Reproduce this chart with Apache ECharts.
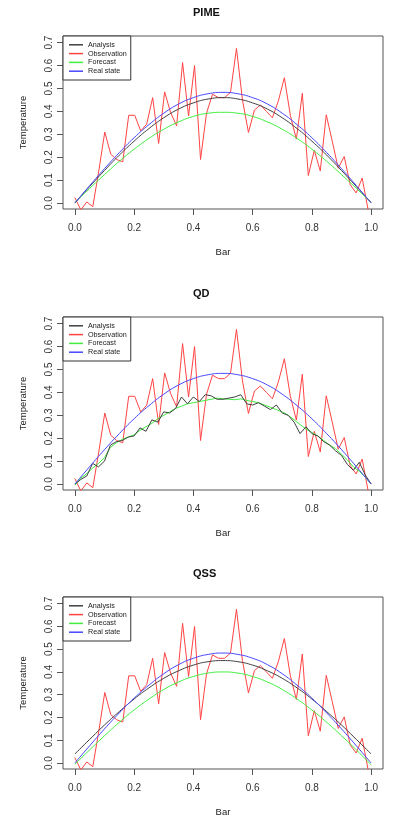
<!DOCTYPE html>
<html>
<head>
<meta charset="utf-8">
<script src="https://cdn.jsdelivr.net/npm/echarts@6/dist/echarts.min.js"></script>
<style>
  html, body { margin: 0; padding: 0; background: #fff; }
  #main { width: 396px; height: 818px; }
</style>
</head>
<body>
<div id="main"></div>
<script>
// panel titles and the legend names
const panelTitles = ['PIME', 'QD', 'QSS'];
const seriesNames = ['Analysis', 'Observation', 'Forecast', 'Real state'];
const xTicks = [0, 0.2, 0.4, 0.6, 0.8, 1.0];
const yTicks = [0, 0.1, 0.2, 0.3, 0.4, 0.5, 0.6, 0.7];

// observations, same in every panel (every second point of a 100 point grid)
const obsY = [0.024, -0.03, 0.005, -0.016, 0.14, 0.31, 0.213, 0.19, 0.18, 0.383,
  0.383, 0.315, 0.344, 0.46, 0.26, 0.485, 0.395, 0.337, 0.613, 0.38,
  0.60, 0.19, 0.392, 0.475, 0.46, 0.46, 0.483, 0.675, 0.45, 0.308,
  0.406, 0.428, 0.40, 0.372, 0.446, 0.547, 0.383, 0.279, 0.479, 0.12,
  0.23, 0.14, 0.385, 0.27, 0.152, 0.203, 0.08, 0.044, 0.109, -0.03];

// smooth curves, read at steps of 0.05
const smoothX = [0, 0.05, 0.1, 0.15, 0.2, 0.25, 0.3, 0.35, 0.4, 0.45, 0.5,
  0.55, 0.6, 0.65, 0.7, 0.75, 0.8, 0.85, 0.9, 0.95, 1.0];
const realState = [0, 0.076, 0.15, 0.22, 0.285, 0.342, 0.392, 0.432, 0.46, 0.477, 0.483,
  0.477, 0.46, 0.432, 0.392, 0.342, 0.285, 0.22, 0.15, 0.076, 0];
const pimeAnalysis = [0, 0.072, 0.142, 0.209, 0.27, 0.325, 0.372, 0.41, 0.437, 0.454, 0.46,
  0.454, 0.437, 0.41, 0.372, 0.325, 0.27, 0.209, 0.142, 0.072, 0.002];
const pimeForecast = [0.003, 0.064, 0.124, 0.182, 0.235, 0.282, 0.322, 0.354, 0.378, 0.392, 0.396,
  0.392, 0.378, 0.354, 0.322, 0.282, 0.235, 0.182, 0.124, 0.064, 0.002];
const qssAnalysis = [0.04, 0.104, 0.167, 0.226, 0.281, 0.33, 0.372, 0.405, 0.43, 0.445, 0.45,
  0.445, 0.43, 0.405, 0.372, 0.33, 0.281, 0.226, 0.167, 0.104, 0.04];
const qssForecast = [-0.005, 0.058, 0.12, 0.179, 0.233, 0.281, 0.323, 0.356, 0.38, 0.395, 0.40,
  0.395, 0.38, 0.356, 0.323, 0.281, 0.233, 0.179, 0.12, 0.058, -0.008];

// QD curves are noisy, read at steps of 0.02
const qdAnalysis = [0, 0.02, 0.035, 0.09, 0.075, 0.10, 0.17, 0.185, 0.19, 0.205,
  0.21, 0.245, 0.23, 0.28, 0.27, 0.315, 0.31, 0.33, 0.38, 0.35,
  0.38, 0.36, 0.39, 0.385, 0.37, 0.37, 0.375, 0.38, 0.39, 0.35,
  0.345, 0.355, 0.34, 0.325, 0.345, 0.31, 0.30, 0.27, 0.22, 0.25,
  0.22, 0.21, 0.185, 0.17, 0.145, 0.125, 0.085, 0.06, 0.095, 0.04, 0];
const qdForecast = [-0.005, 0.025, 0.045, 0.07, 0.09, 0.115, 0.16, 0.18, 0.195, 0.205,
  0.215, 0.235, 0.25, 0.265, 0.285, 0.30, 0.315, 0.33, 0.34, 0.35,
  0.355, 0.36, 0.365, 0.37, 0.375, 0.372, 0.37, 0.368, 0.372, 0.365,
  0.36, 0.355, 0.345, 0.335, 0.325, 0.315, 0.30, 0.28, 0.26, 0.24,
  0.225, 0.21, 0.19, 0.17, 0.155, 0.13, 0.105, 0.075, 0.055, 0.03, 0];

const obsX = obsY.map((_, i) => +(i * 2 / 99).toFixed(4));
const qdX = qdAnalysis.map((_, i) => i / 50);

const zip = (xs, ys) => xs.map((x, i) => [x, ys[i]]);

const FONT = '"Liberation Sans", Arial, sans-serif';
const colors = {
  Analysis: '#404040',
  Observation: '#ff4444',
  Forecast: '#3fee3f',
  'Real state': '#4646ff'
};

const panels = [
  { top: 36, analysis: zip(smoothX, pimeAnalysis), forecast: zip(smoothX, pimeForecast), smooth: true },
  { top: 317, analysis: zip(qdX, qdAnalysis), forecast: zip(qdX, qdForecast), smooth: false },
  { top: 597, analysis: zip(smoothX, qssAnalysis), forecast: zip(smoothX, qssForecast), smooth: true }
];

let chart = echarts.init(document.getElementById('main'), null, { renderer: 'canvas' });

let grid = [], xAxis = [], yAxis = [], series = [], legend = [], graphic = [];

panels.forEach((p, k) => {
  grid.push({
    left: 63, top: p.top, width: 320, height: 173,
    show: true, borderColor: '#555', borderWidth: 1, backgroundColor: 'transparent'
  });
  xAxis.push({
    gridIndex: k, type: 'value', min: -0.04, max: 1.04,
    name: 'Bar', nameLocation: 'middle', nameGap: 38,
    nameTextStyle: { fontFamily: FONT, fontSize: 9.5, color: '#222' },
    axisLine: { show: false, onZero: false },
    axisTick: { show: true, length: 6, customValues: xTicks, lineStyle: { color: '#555' } },
    axisLabel: { customValues: xTicks, margin: 14.5, fontFamily: FONT, fontSize: 10, color: '#333',
      formatter: v => v.toFixed(1) },
    splitLine: { show: false }
  });
  yAxis.push({
    gridIndex: k, type: 'value', min: -0.026, max: 0.729,
    name: 'Temperature', nameLocation: 'middle', nameGap: 35,
    nameTextStyle: { fontFamily: FONT, fontSize: 9.5, color: '#222' },
    axisLine: { show: false, onZero: false },
    axisTick: { show: true, length: 6, customValues: yTicks, lineStyle: { color: '#555' } },
    axisLabel: { customValues: yTicks, rotate: 90, margin: 9, fontFamily: FONT, fontSize: 10, color: '#333',
      formatter: v => v.toFixed(1) },
    splitLine: { show: false }
  });

  const line = (name, data, smooth, z) => ({
    name, type: 'line', xAxisIndex: k, yAxisIndex: k, data, smooth,
    showSymbol: false, symbol: 'none', z,
    lineStyle: { color: colors[name], width: 1 }, itemStyle: { color: colors[name] },
    animation: false
  });
  series.push(line('Observation', zip(obsX, obsY), false, 2));
  series.push(line('Forecast', p.forecast, p.smooth, 3));
  series.push(line('Analysis', p.analysis, p.smooth, 4));
  series.push(line('Real state', zip(smoothX, realState), true, 5));

  legend.push({
    data: seriesNames, orient: 'vertical', left: 63, top: p.top,
    icon: 'rect', itemWidth: 14, itemHeight: 1.5, itemGap: 0,
    padding: [4.4, 4, 4.4, 6],
    backgroundColor: '#fff', borderColor: '#333', borderWidth: 1, borderRadius: 0,
    selectedMode: false,
    textStyle: { fontFamily: FONT, fontSize: 7.2, lineHeight: 8.8, color: '#222' }
  });

  graphic.push({
    type: 'text', left: 223 - 30, top: p.top - 29,
    style: { text: panelTitles[k], font: 'bold 11px ' + FONT, fill: '#111',
      width: 60, align: 'center' }
  });
});

let option = {
  animation: false,
  backgroundColor: '#fff',
  grid, xAxis, yAxis, series, legend, graphic
};

option && chart.setOption(option);
</script>
</body>
</html>
